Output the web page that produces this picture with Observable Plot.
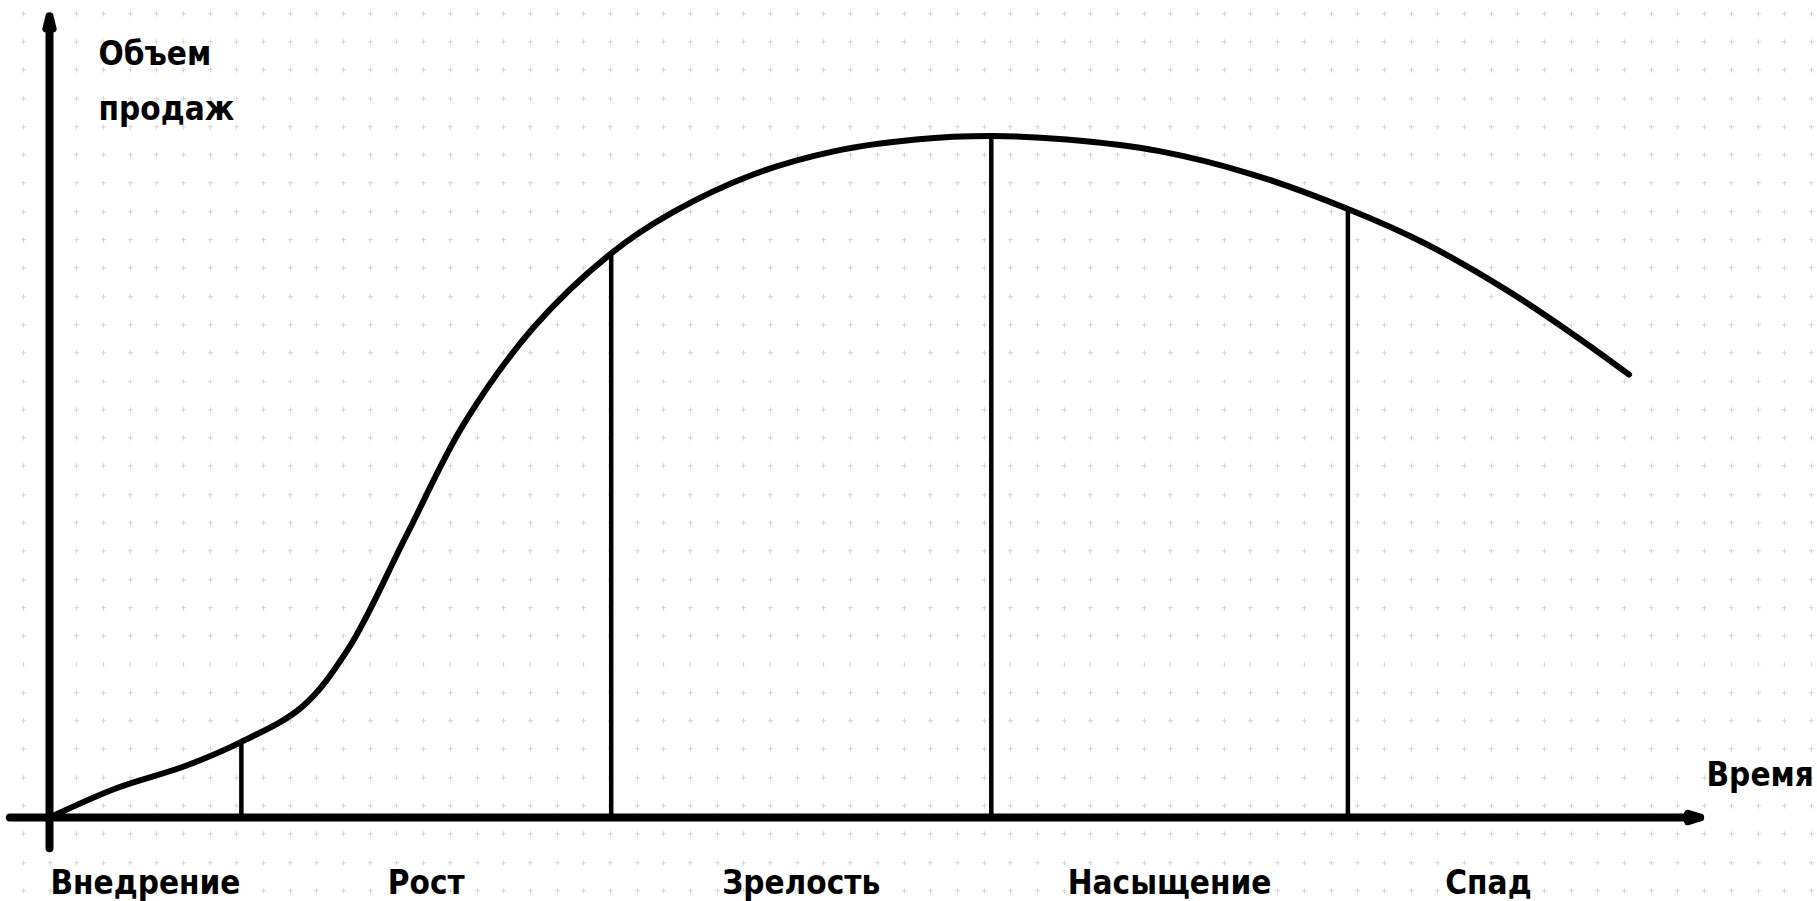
<!DOCTYPE html>
<html>
<head>
<meta charset="utf-8">
<script src="https://cdn.jsdelivr.net/npm/d3@7"></script>
<script src="https://cdn.jsdelivr.net/npm/@observablehq/plot@0.6"></script>
<style>
  html, body { margin: 0; padding: 0; }
  body {
    width: 1817px; height: 901px; overflow: hidden;
    background-color: #fff;
    background-image: url("data:image/svg+xml;utf8,<svg xmlns='http://www.w3.org/2000/svg' width='26.7' height='28.3'><path d='M13.3 11v5M10.8 13.5h5' stroke='%23d6d6d6' stroke-width='1'/></svg>");
    background-position: 10px 0px;
  }
  #chart svg { display: block; background: transparent !important; }
</style>
</head>
<body>
<div id="chart"></div>
<script>
// Product life cycle: sales volume over time (arbitrary units, peak = 100)
const time  = [0, 4.04, 8.25, 11.6, 15.25, 18.05, 21.56, 25.06, 29.26, 33.96, 37.67, 42.58, 47.48, 52.39, 56.94, 61.5, 67.1, 72.7, 78.5, 83.2, 88.1, 92.3, 95.5];
const sales = [0, 4.3, 7.6, 11.1, 16.2, 24.7, 41.3, 57.8, 71.9, 82.8, 88.8, 94.4, 97.8, 99.5, 100, 99.5, 97.8, 94.4, 89.3, 84.2, 77.4, 70.6, 65];

// Stage boundaries (time) and stage names
const stageBoundaries = [11.6, 33.96, 56.94, 78.5];
const stages = ["Внедрение", "Рост", "Зрелость", "Насыщение", "Спад"];

// Axis titles
const yTitle = "Объем\nпродаж";
const xTitle = "Время";

// Axis extents (data units)
const xAxisExtent = [-2.4, 99.8];
const yAxisExtent = [-4.5, 117.6];

const curve = time.map((t, i) => ({t, v: sales[i]}));
const dividers = stageBoundaries.map(t => ({t, v: sales[time.indexOf(t)]}));
const edges = [time[0], ...stageBoundaries, time[time.length - 1]];
const stageLabels = stages.map((name, i) => ({name, t: (edges[i] + edges[i + 1]) / 2}));

const font = "'DejaVu Sans Condensed', 'DejaVu Sans', sans-serif";

const chart = Plot.plot({
  width: 1817,
  height: 901,
  marginLeft: 49,
  marginRight: 114,
  marginTop: 135.6,
  marginBottom: 84,
  x: {domain: [0, 100], axis: null},
  y: {domain: [0, 100], axis: null},
  style: {background: "transparent", overflow: "visible"},
  marks: [
    // dividers from axis up to the curve
    Plot.ruleX(dividers, {x: "t", y1: 0, y2: "v", stroke: "#000", strokeWidth: 4.5}),
    // the curve
    Plot.line(curve, {x: "t", y: "v", curve: "catmull-rom", stroke: "#000", strokeWidth: 6, strokeLinejoin: "round"}),
    // axes with arrows
    Plot.arrow([{x1: xAxisExtent[0], x2: xAxisExtent[1]}], {
      x1: "x1", x2: "x2", y1: 0, y2: 0, stroke: "#000", strokeWidth: 8, headLength: 2.4, headAngle: 34
    }),
    Plot.arrow([{y1: yAxisExtent[0], y2: yAxisExtent[1]}], {
      x1: 0, x2: 0, y1: "y1", y2: "y2", stroke: "#000", strokeWidth: 8, headLength: 2.4, headAngle: 28
    }),
    // stage labels
    Plot.text(stageLabels, {
      x: "t", text: "name", frameAnchor: "bottom", dy: 66, lineAnchor: "middle",
      fontFamily: font, fontWeight: "bold", fontSize: 33, fill: "#000"
    }),
    // axis titles
    Plot.text([yTitle], {
      frameAnchor: "top-left", dx: 49, dy: -110, lineAnchor: "top", textAnchor: "start",
      lineHeight: 1.66, fontFamily: font, fontWeight: "bold", fontSize: 33, fill: "#000"
    }),
    Plot.text([xTitle], {
      x: 100, y: 0, dx: 3, dy: -42, textAnchor: "start", lineAnchor: "middle",
      fontFamily: font, fontWeight: "bold", fontSize: 33, fill: "#000"
    })
  ]
});
document.getElementById("chart").appendChild(chart);
</script>
</body>
</html>
